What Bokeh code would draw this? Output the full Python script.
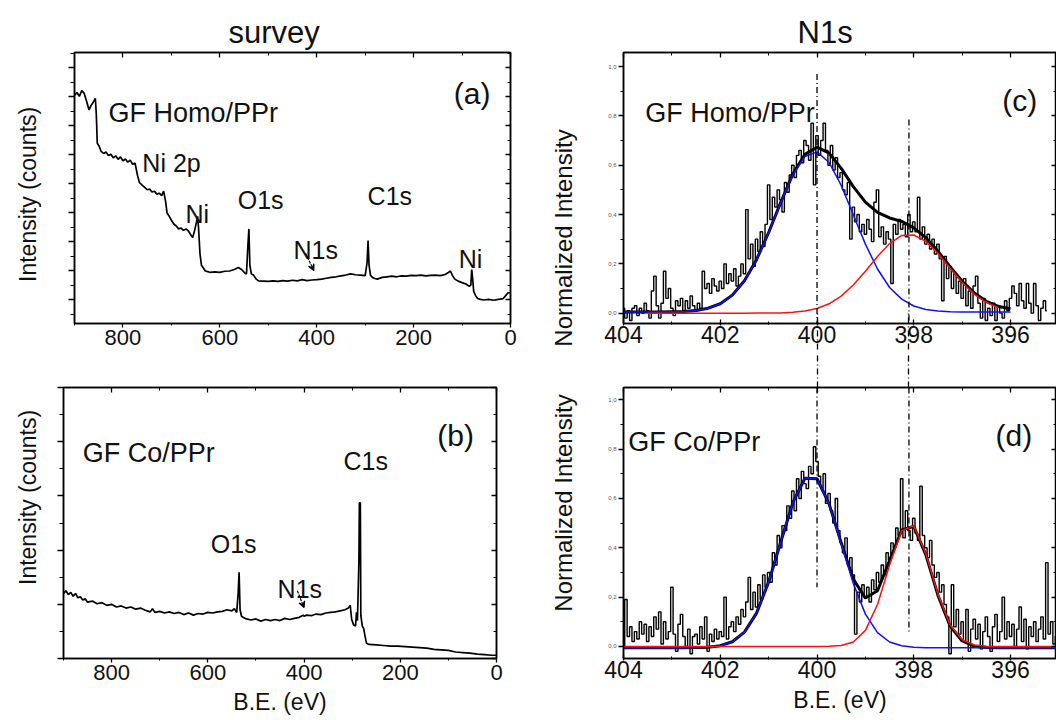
import numpy as np
from bokeh.plotting import figure
from bokeh.layouts import row, column
from bokeh.models import Range1d, FixedTicker, LinearAxis, Label, Arrow, VeeHead, CustomJSTickFormatter, Title
from bokeh.embed import file_html
from bokeh.resources import INLINE

FONT = "Liberation Sans"
TXT = "#111111"
NB = "\u00a0"

# ---------------- survey (a): GF Homo/PPr ----------------
be_a = [900, 895, 890, 885, 880, 875, 870, 866, 862, 857, 855, 853, 849, 845, 840, 835, 830, 825, 820, 815,
        810, 805, 800, 795, 790, 785, 780, 775, 770, 766, 760, 755, 750, 745, 740, 735, 730, 725, 720, 716,
        712, 709, 705, 700, 695, 690, 685, 680, 675, 670, 665, 660, 656, 652, 648, 646, 644, 641, 638, 634,
        630, 625, 620, 610, 600, 590, 580, 570, 562, 555, 548, 545, 542, 540, 538, 535, 530, 525, 520, 510,
        500, 490, 480, 470, 460, 450, 440, 430, 420, 410, 400, 390, 380, 370, 360, 350, 340, 330, 320, 310,
        300, 296, 294, 292, 289, 285, 280, 275, 265, 255, 245, 235, 225, 215, 205, 195, 185, 175, 165, 155,
        145, 135, 128, 124, 120, 115, 108, 100, 92, 86, 82, 80, 78, 76, 72, 68, 62, 55, 45, 35,
        25, 15, 10, 5, 0]
int_a = [8.05, 8.15, 8.02, 8.22, 8.12, 7.85, 7.55, 7.70, 7.80, 7.95, 7.40, 6.40, 6.30, 6.12, 6.05, 6.10, 5.98, 6.02, 5.90, 5.97,
         5.85, 5.93, 5.80, 5.86, 5.75, 5.82, 5.68, 5.72, 5.30, 5.05, 4.95, 4.88, 4.80, 4.82, 4.72, 4.75, 4.65, 4.68, 4.60, 4.75,
         4.40, 4.00, 3.90, 3.75, 3.62, 3.55, 3.45, 3.48, 3.40, 3.45, 3.38, 3.25, 3.15, 3.40, 3.70, 3.88, 3.50, 2.60, 2.20, 2.10,
         2.00, 1.98, 1.95, 1.97, 1.95, 1.99, 2.00, 2.05, 2.12, 2.05, 1.92, 1.90, 2.90, 3.45, 2.20, 1.90, 1.85, 1.72, 1.66, 1.65,
         1.64, 1.66, 1.64, 1.67, 1.65, 1.68, 1.66, 1.70, 1.67, 1.69, 1.70, 1.72, 1.75, 1.78, 1.80, 1.83, 1.86, 1.90, 1.87, 1.86,
         1.84, 2.30, 3.05, 2.20, 1.85, 1.78, 1.74, 1.72, 1.78, 1.80, 1.82, 1.80, 1.83, 1.82, 1.85, 1.84, 1.86, 1.83, 1.85, 1.86,
         1.84, 1.88, 1.95, 2.00, 1.85, 1.72, 1.65, 1.60, 1.55, 1.48, 1.50, 2.05, 1.70, 1.30, 1.15, 1.05, 1.02, 1.00, 1.02, 0.99,
         1.02, 1.05, 1.15, 1.25, 1.25]

# ---------------- survey (b): GF Co/PPr ----------------
be_b = [900, 895, 890, 885, 880, 875, 870, 865, 860, 855, 850, 840, 830, 820, 810, 800, 790, 780, 770, 760,
        750, 740, 730, 720, 715, 710, 700, 690, 680, 670, 660, 650, 640, 630, 620, 610, 600, 590, 580, 570,
        560, 550, 545, 540, 537, 535, 533, 530, 525, 520, 510, 500, 490, 480, 470, 460, 450, 440, 430, 420,
        410, 402, 400, 395, 385, 375, 365, 355, 345, 335, 325, 315, 308, 304, 301, 297, 293, 291, 289, 286,
        285, 283, 282, 279, 276, 273, 270, 265, 250, 235, 220, 205, 190, 175, 160, 145, 130, 115, 100, 85,
        70, 55, 40, 25, 10, 0]
int_b = [1.20, 1.25, 1.18, 1.22, 1.15, 1.20, 1.12, 1.14, 1.08, 1.10, 1.04, 1.06, 1.01, 1.03, 0.98, 1.00, 0.95, 0.97, 0.93, 0.95,
         0.91, 0.93, 0.89, 0.86, 0.92, 0.85, 0.87, 0.84, 0.86, 0.83, 0.85, 0.81, 0.84, 0.80, 0.83, 0.82, 0.85, 0.84, 0.86, 0.87,
         0.90, 0.88, 0.92, 0.85, 1.20, 1.59, 0.90, 0.78, 0.75, 0.73, 0.71, 0.73, 0.69, 0.72, 0.70, 0.72, 0.70, 0.74, 0.72, 0.74,
         0.76, 0.80, 0.78, 0.80, 0.79, 0.82, 0.81, 0.84, 0.85, 0.86, 0.88, 0.90, 0.93, 0.98, 0.72, 0.62, 0.60, 0.85, 0.70, 1.80,
         2.87, 2.87, 0.80, 0.60, 0.55, 0.40, 0.28, 0.26, 0.25, 0.24, 0.23, 0.23, 0.22, 0.21, 0.20, 0.19, 0.17, 0.16, 0.15, 0.12,
         0.11, 0.10, 0.08, 0.07, 0.06, 0.06]

# ---------------- N1s (c): raw spectrum, 0.05 eV steps from 404.00 ----------------
n1s_c = [0.02, -0.02, 0.01, -0.03, 0.02, 0.03, -0.01, 0.02, 0.00, 0.04,
         0.01, -0.02, 0.09, 0.15, 0.03, -0.02, 0.04, 0.17, 0.06, 0.10,
         0.02, -0.01, 0.05, 0.03, 0.06, 0.01, 0.05, 0.02, 0.07, 0.03,
         0.01, 0.04, 0.02, 0.17, 0.10, 0.12, 0.08, 0.14, 0.11, 0.09,
         0.13, 0.10, 0.20, 0.12, 0.16, 0.13, 0.18, 0.11, 0.15, 0.20,
         0.16, 0.42, 0.22, 0.28, 0.19, 0.30, 0.25, 0.33, 0.27, 0.36,
         0.52, 0.38, 0.47, 0.43, 0.50, 0.46, 0.41, 0.53, 0.49, 0.56,
         0.60, 0.55, 0.64, 0.66, 0.61, 0.70, 0.68, 0.62, 0.77, 0.52,
         0.72, 0.64, 0.70, 0.77, 0.66, 0.60, 0.68, 0.58, 0.63, 0.55,
         0.57, 0.50, 0.48, 0.53, 0.30, 0.43, 0.37, 0.40, 0.33, 0.36,
         0.32, 0.38, 0.34, 0.29, 0.45, 0.50, 0.31, 0.35, 0.28, 0.33,
         0.30, 0.12, 0.36, 0.32, 0.38, 0.34, 0.36, 0.31, 0.40, 0.33,
         0.37, 0.33, 0.47, 0.30, 0.35, 0.28, 0.32, 0.26, 0.30, 0.24,
         0.28, 0.22, 0.05, 0.23, 0.14, 0.19, 0.10, 0.16, 0.08, 0.13,
         0.06, 0.14, 0.03, 0.09, 0.02, 0.11, 0.15, 0.04, -0.02, 0.06,
         -0.03, 0.02, -0.01, 0.04, -0.03, 0.03, 0.00, -0.02, 0.05, 0.01,
         0.06, 0.11, 0.08, 0.03, 0.12, 0.05, 0.02, 0.12, 0.04, 0.00,
         0.12, 0.03, -0.03, 0.02, 0.05, 0.01]

# ---------------- N1s (d): raw spectrum, 0.05 eV steps from 404.00 ----------------
n1s_d = [0.00, 0.19, 0.04, 0.08, 0.02, 0.06, 0.03, 0.10, 0.05, 0.09,
         0.02, 0.08, 0.04, 0.12, 0.07, 0.14, 0.01, 0.10, 0.03, 0.06,
         0.24, 0.05, -0.02, 0.09, 0.13, 0.04, 0.00, 0.07, -0.03, 0.04,
         0.05, 0.01, 0.08, 0.03, 0.12, -0.02, 0.05, 0.02, 0.07, 0.03,
         0.06, 0.04, 0.20, 0.03, 0.08, 0.10, 0.06, 0.12, 0.09, 0.15,
         0.12, 0.18, 0.28, 0.15, 0.22, 0.16, 0.25, 0.19, 0.29, 0.24,
         0.30, 0.26, 0.38, 0.33, 0.45, 0.40, 0.49, 0.47, 0.57, 0.52,
         0.63, 0.55, 0.68, 0.60, 0.71, 0.66, 0.64, 0.73, 0.70, 0.81,
         0.75, 0.69, 0.64, 0.70, 0.58, 0.62, 0.55, 0.50, 0.60, 0.47,
         0.42, 0.38, 0.44, 0.33, 0.36, 0.29, 0.05, 0.22, 0.18, 0.25,
         0.20, 0.24, 0.18, 0.27, 0.23, 0.30, 0.26, 0.33, 0.29, 0.38,
         0.35, 0.42, 0.40, 0.48, 0.45, 0.68, 0.44, 0.55, 0.47, 0.43,
         0.52, 0.46, 0.43, 0.65, 0.45, 0.40, 0.36, 0.43, 0.33, 0.28,
         0.30, 0.22, 0.25, 0.17, 0.12, -0.03, 0.25, 0.08, 0.15, 0.05,
         0.10, 0.02, 0.15, -0.02, 0.07, 0.11, 0.03, 0.09, -0.01, 0.06,
         0.12, 0.04, -0.02, 0.08, 0.13, 0.02, 0.06, 0.20, 0.03, 0.10,
         0.04, 0.09, 0.00, 0.07, 0.16, 0.02, 0.11, -0.01, 0.08, 0.04,
         0.10, 0.02, 0.07, 0.12, 0.03, 0.34, 0.05, 0.10, 0.01, 0.04,
         0.02]

# ---------------- fitted components (0.25 eV steps from 404.00) ----------------
nan = float("nan")
fit_blue_c = [0.005, 0.005, 0.005, 0.005, 0.006, 0.007, 0.011, 0.020, 0.038, 0.073, 0.131, 0.216, 0.326,
              0.448, 0.560, 0.635, 0.654, 0.611, 0.518, 0.399, 0.280, 0.179, 0.104, 0.057, 0.029, 0.015,
              0.009, 0.006, 0.005, 0.005, 0.005, 0.005, 0.005]
fit_red_c = [nan, nan, 0.0, 0.0, 0.0, 0.0, 0.0, 0.0, 0.0, 0.0, 0.0, 0.001, 0.001, 0.001, 0.004, 0.009,
             0.019, 0.038, 0.069, 0.114, 0.170, 0.230, 0.282, 0.315, 0.317, 0.291, 0.242, 0.182, 0.124,
             0.077, 0.043, 0.022, nan]
fit_sum_c = [0.005, 0.005, 0.005, 0.005, 0.006, 0.007, 0.011, 0.020, 0.038, 0.073, 0.131, 0.217, 0.327,
             0.449, 0.564, 0.644, 0.673, 0.649, 0.587, 0.513, 0.450, 0.409, 0.386, 0.372, 0.346, 0.306,
             0.251, 0.188, 0.129, 0.082, 0.048, 0.027, 0.018]
fit_blue_d = [-0.005, -0.005, -0.005, -0.005, -0.005, -0.005, -0.004, -0.003, 0.003, 0.019, 0.058, 0.135,
              0.261, 0.423, 0.583, 0.682, 0.680, 0.577, 0.416, 0.255, 0.131, 0.056, 0.018, 0.003, -0.003,
              -0.005, -0.005, -0.005, -0.005, -0.005, -0.005, -0.005, -0.005, -0.005, -0.005, -0.005, -0.005]
fit_red_d = [0.0, 0.0, 0.0, 0.0, 0.0, 0.0, 0.0, 0.0, 0.0, 0.0, 0.0, 0.0, 0.0, 0.0, 0.0, 0.0, 0.0, 0.001,
             0.004, 0.018, 0.065, 0.170, 0.330, 0.469, 0.490, 0.376, 0.212, 0.088, 0.027, 0.006, 0.001,
             0.0, 0.0, 0.0, 0.0, 0.0, 0.0]
fit_sum_d = [-0.005, -0.005, -0.005, -0.005, -0.005, -0.005, -0.004, -0.003, 0.003, 0.019, 0.058, 0.135,
             0.261, 0.423, 0.583, 0.682, 0.680, 0.578, 0.420, 0.273, 0.196, 0.226, 0.348, 0.472, 0.487,
             0.371, 0.207, 0.083, 0.022, 0.001, -0.004, -0.005, -0.005, -0.005, -0.005, -0.005, -0.005]

peak_lines = [400.0, 398.1]
peak_tops_c = [0.97, 0.785]
peak_bottoms_d = [0.24, 0.06]

be_c = np.round(404.0 - 0.05 * np.arange(len(n1s_c)), 2)
be_d = np.round(404.0 - 0.05 * np.arange(len(n1s_d)), 2)
fx_c = np.round(404.0 - 0.25 * np.arange(len(fit_blue_c)), 2)
fx_d = np.round(404.0 - 0.25 * np.arange(len(fit_blue_d)), 2)

DASH = "6 3 1 3"


def panel(width, height, bl, br, bt, bb, xr, yr):
    p = figure(width=width, height=height, x_range=Range1d(*xr), y_range=Range1d(*yr),
               output_backend="svg", toolbar_location=None, title=None,
               min_border_left=bl, min_border_right=br, min_border_top=bt, min_border_bottom=bb)
    p.xgrid.visible = False
    p.ygrid.visible = False
    p.outline_line_color = "black"
    p.outline_line_width = 1.5
    p.background_fill_color = "white"
    p.border_fill_color = "white"
    return p


def style_axis(ax, ticks, minor, t_in, t_out, size=None, standoff=2, formatter=None, color=TXT):
    ax.ticker = FixedTicker(ticks=ticks, minor_ticks=minor)
    ax.major_tick_in = t_in
    ax.major_tick_out = t_out
    ax.minor_tick_in = int(round(t_in * 0.6))
    ax.minor_tick_out = int(round(t_out * 0.6))
    ax.axis_line_width = 1.5
    ax.axis_line_color = "black"
    ax.major_tick_line_width = 1.3
    ax.minor_tick_line_width = 1.0
    ax.major_label_standoff = standoff
    ax.major_label_text_font = FONT
    ax.major_label_text_color = color
    if size is None:
        ax.major_label_text_font_size = "0px"
        ax.major_label_text_alpha = 0
        ax.major_label_standoff = 0
    else:
        ax.major_label_text_font_size = size
    if formatter is not None:
        ax.formatter = formatter


def mirror_axes(p, xt, xm, yt, ym):
    top = LinearAxis()
    style_axis(top, xt, xm, 5, 0)
    p.add_layout(top, "above")
    right = LinearAxis()
    style_axis(right, yt, ym, 5, 0)
    p.add_layout(right, "right")


def axis_title(ax, text, size, standoff):
    ax.axis_label = text
    ax.axis_label_text_font = FONT
    ax.axis_label_text_font_size = f"{size}px"
    ax.axis_label_text_font_style = "normal"
    ax.axis_label_text_color = TXT
    ax.axis_label_standoff = standoff


def top_title(p, text, offset):
    p.add_layout(Title(text=text, align="left", offset=offset, text_font=FONT, text_font_size="31px",
                       text_font_style="normal", text_color=TXT, standoff=5), "above")


def lab(p, x, y, text, size, align="left", baseline="alphabetic"):
    p.add_layout(Label(x=x, y=y, text=text, text_font=FONT, text_font_size=f"{size}px",
                       text_align=align, text_baseline=baseline, text_color=TXT))


def arrow(p, x0, y0, x1, y1):
    p.add_layout(Arrow(x_start=x0, y_start=y0, x_end=x1, y_end=y1, line_width=1.2, line_dash="3 1",
                       end=VeeHead(size=6, line_width=1.2, line_color="black")))


def gap_ticks(p, side, t_in, t_out):
    # an unlabeled axis whose only ticks continue the dash-dot peak lines across the gap
    ax = LinearAxis()
    ax.ticker = FixedTicker(ticks=peak_lines, minor_ticks=[])
    ax.axis_line_color = None
    ax.major_tick_in = t_in
    ax.major_tick_out = t_out
    ax.minor_tick_in = 0
    ax.minor_tick_out = 0
    ax.major_tick_line_width = 1.3
    ax.major_tick_line_dash = DASH
    ax.major_label_text_font_size = "0px"
    ax.major_label_text_alpha = 0
    ax.major_label_standoff = 0
    p.add_layout(ax, side)


sx_major = [0, 200, 400, 600, 800]
sx_minor = [100, 300, 500, 700, 900]

# ---- (a)
pa = panel(540, 355, 74, 30, 52, 32, (900, 0), (0.19, 9.53))
ax_a_b, ax_a_l = pa.below[0], pa.left[0]
ya_major = [1, 2, 3, 4, 5, 6, 7, 8, 9]
ya_minor = [0.5, 1.5, 2.5, 3.5, 4.5, 5.5, 6.5, 7.5, 8.5, 9.5]
style_axis(ax_a_b, sx_major, sx_minor, 0, 4, "22px", 2)
style_axis(ax_a_l, ya_major, ya_minor, 0, 6)
axis_title(ax_a_l, "Intensity (counts)" + NB * 2, 23, 28)
mirror_axes(pa, sx_major, sx_minor, ya_major, ya_minor)
top_title(pa, "survey", 154)
pa.line(be_a, int_a, line_color="black", line_width=1.7)
lab(pa, 830, 7.43, "GF Homo/PPr", 27)
lab(pa, 117, 8.12, "(a)", 30)
lab(pa, 760, 5.71, "Ni 2p", 25)
lab(pa, 671, 3.98, "Ni", 25)
lab(pa, 563, 4.43, "O1s", 25)
lab(pa, 295, 4.60, "C1s", 25)
lab(pa, 448, 2.71, "N1s", 25)
lab(pa, 107, 2.43, "Ni", 25)
arrow(pa, 423, 2.60, 406, 2.02)

# ---- (b)
pb = panel(540, 365, 63, 44, 32, 62, (900, 0), (0, 5))
ax_b_b, ax_b_l = pb.below[0], pb.left[0]
yb_major = [0, 1, 2, 3, 4, 5]
yb_minor = [0.5, 1.5, 2.5, 3.5, 4.5]
style_axis(ax_b_b, sx_major, sx_minor, 0, 4, "22px", 2)
style_axis(ax_b_l, yb_major, yb_minor, 0, 6)
axis_title(ax_b_l, NB * 8 + "Intensity (counts)", 23, 17)
axis_title(ax_b_b, "B.E. (eV)", 23, 6)
mirror_axes(pb, sx_major, sx_minor, yb_major, yb_minor)
pb.line(be_b, int_b, line_color="black", line_width=1.7)
lab(pb, 860, 3.80, "GF Co/PPr", 27)
lab(pb, 123, 4.11, "(b)", 30)
lab(pb, 318, 3.65, "C1s", 25)
lab(pb, 594, 2.12, "O1s", 25)
lab(pb, 455, 1.29, "N1s", 25)
arrow(pb, 414, 1.25, 400, 0.94)

# ---- (c) and (d)
nx_major = [396, 398, 400, 402, 404]
nx_minor = [395, 397, 399, 401, 403]
ny_major = [0.0, 0.2, 0.4, 0.6, 0.8, 1.0]
ny_minor = [0.1, 0.3, 0.5, 0.7, 0.9]
comma = CustomJSTickFormatter(code="return tick.toFixed(1).replace('.', ',')")

pc = panel(516, 355, 83, 0, 52, 32, (404, 395.05), (-0.042, 1.057))
ax_c_b, ax_c_l = pc.below[0], pc.left[0]
style_axis(ax_c_b, nx_major, nx_minor, 4, 2, "23px", 0)
style_axis(ax_c_l, ny_major, ny_minor, 0, 5, "6px", 2, comma, "#555555")
axis_title(ax_c_l, "Normalized Intensity" + NB * 15, 24, 28)
mirror_axes(pc, nx_major, nx_minor, ny_major, ny_minor)
gap_ticks(pc, "below", 34, 4)
top_title(pc, "N1s", 174)
pc.step(be_c, n1s_c, mode="center", line_color="black", line_width=1.4)
pc.line(fx_c, fit_sum_c, line_color="black", line_width=3)
pc.line(fx_c, fit_blue_c, line_color="#1010ff", line_width=1.5)
pc.line(fx_c, fit_red_c, line_color="#ff1010", line_width=1.5)
pc.segment(x0=peak_lines, y0=peak_tops_c, x1=peak_lines, y1=[-0.042, -0.042],
           line_color="black", line_width=1.3, line_dash=DASH)
lab(pc, 403.55, 0.81, "GF Homo/PPr", 27)
lab(pc, 396.17, 0.862, "(c)", 30)

pd = panel(516, 365, 83, 0, 32, 62, (404, 395.05), (-0.049, 1.05))
ax_d_b, ax_d_l = pd.below[0], pd.left[0]
style_axis(ax_d_b, nx_major, nx_minor, 4, 2, "23px", 0)
style_axis(ax_d_l, ny_major, ny_minor, 0, 5, "6px", 2, comma, "#555555")
axis_title(ax_d_l, NB * 6 + "Normalized Intensity", 24, 28)
axis_title(ax_d_b, "B.E. (eV)", 23, 6)
mirror_axes(pd, nx_major, nx_minor, ny_major, ny_minor)
gap_ticks(pd, "above", 0, 32)
pd.step(be_d, n1s_d, mode="center", line_color="black", line_width=1.4)
pd.line(fx_d, fit_sum_d, line_color="black", line_width=3)
pd.line(fx_d, fit_blue_d, line_color="#1010ff", line_width=1.5)
pd.line(fx_d, fit_red_d, line_color="#ff1010", line_width=1.5)
pd.segment(x0=peak_lines, y0=[1.05, 1.05], x1=peak_lines, y1=peak_bottoms_d,
           line_color="black", line_width=1.3, line_dash=DASH)
lab(pd, 403.9, 0.827, "GF Co/PPr", 27)
lab(pd, 396.31, 0.855, "(d)", 30)

layout = column(row(pa, pc), row(pb, pd))
open("out.html", "w").write(file_html(layout, INLINE))
